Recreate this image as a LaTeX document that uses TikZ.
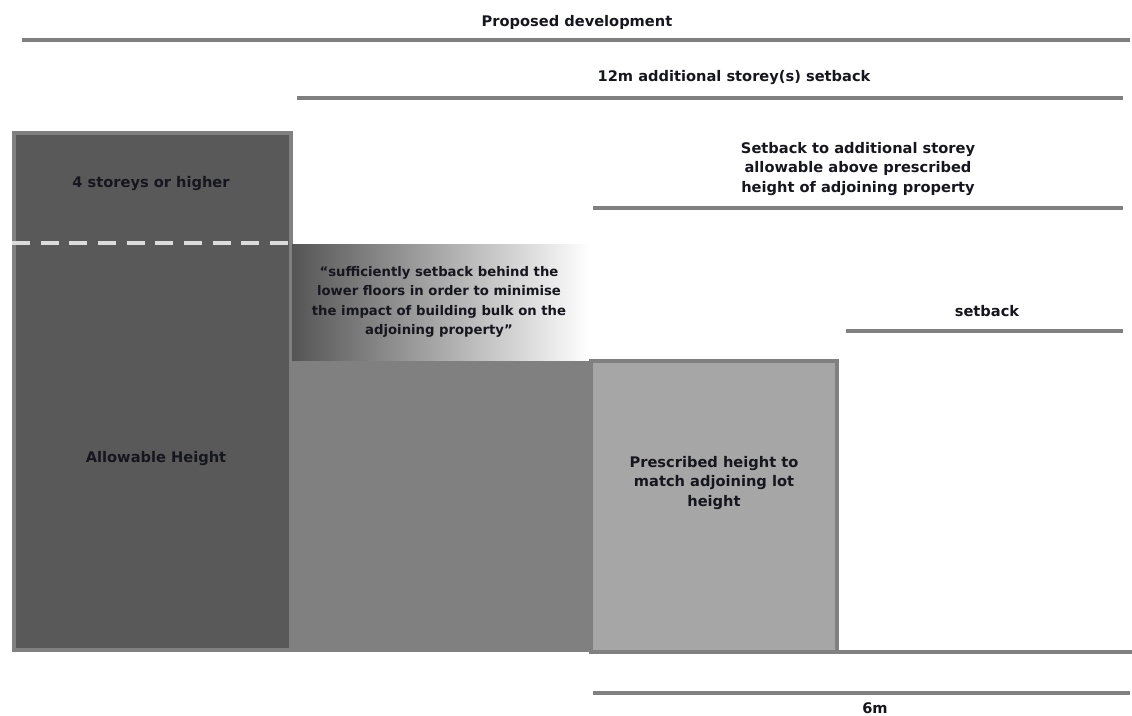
\documentclass[tikz,border=0pt]{standalone}
\usepackage{fontspec}
\setmainfont{DejaVu Sans}
\usepackage{tikz}
\usetikzlibrary{positioning,calc}
\usepackage{xcolor}
\definecolor{rulegray}{RGB}{128,128,128}
\definecolor{darkfill}{RGB}{89,89,89}
\definecolor{midfill}{RGB}{128,128,128}
\definecolor{lightfill}{RGB}{166,166,166}
\definecolor{dashgray}{RGB}{220,220,220}
\definecolor{ink}{RGB}{22,22,30}

\tikzset{
  txt/.style={font=\fontsize{10.4}{14.2}\selectfont\bfseries,text=ink,align=center,inner sep=0pt},
  dimrule/.style={draw=rulegray,line width=2.9pt}
}

\begin{document}
\begin{tikzpicture}[x=0.025cm,y=-0.025cm]
    \useasboundingbox (0,0) rectangle (1132,716);

    % Allowable height block
    \filldraw[fill=darkfill,draw=rulegray,line width=2.8pt] (14,133) rectangle (291,650);
    \node[txt] (floors) at (151,184) {4 storeys or higher};
    \node[txt] (allow) at (156,459) {Allowable Height};

    % Lower floors and faded upper setback
    \fill[midfill] (291,360) rectangle (591,652);
    \shade[left color=darkfill!95!black,right color=white] (292,244) rectangle (590,360);
    \node[txt,font=\fontsize{9.4}{13.7}\selectfont\bfseries] (quote) at (439,302) {``sufficiently setback behind the\\lower floors in order to minimise\\the impact of building bulk on the\\adjoining property''};

    % 4 storey line
    \draw[dashgray,line width=3.2pt,dash pattern=on 12.8pt off 7.6pt] (12,243) -- (290,243);

    % Prescribed height block
    \filldraw[fill=lightfill,draw=rulegray,line width=2.8pt] (591,361) rectangle (837,652);
    \node[txt] (presc) at (714,483) {Prescribed height to\\match adjoining lot\\height};

    % Ground line
    \coordinate (g1) at (591,652);
    \coordinate (g2) at (1132,652);
    \draw[dimrule] (g1) -- (g2);

    % Rules and labels
    \node[txt] (title) at (577,22) {Proposed development};
    \coordinate (t1) at (22,40);
    \coordinate (t2) at (1130,40);
    \draw[dimrule] (t1) -- (t2);

    \node[txt] (addl) at (734,78) {12m additional storey(s) setback};
    \coordinate (a1) at (297,98);
    \coordinate (a2) at (1123,98);
    \draw[dimrule] (a1) -- (a2);

    \node[txt] (setbk) at (858,169) {Setback to additional storey\\allowable above prescribed\\height of adjoining property};
    \coordinate (s1) at (593,208);
    \coordinate (s2) at (1123,208);
    \draw[dimrule] (s1) -- (s2);

    \node[txt] (sb) at (987,311) {setback};
    \coordinate (b1) at (846,331);
    \coordinate (b2) at (1123,331);
    \draw[dimrule] (b1) -- (b2);

    \coordinate (m1) at (593,693);
    \coordinate (m2) at (1130,693);
    \draw[dimrule] (m1) -- (m2);
    \node[txt] (six) at (875,708) {6m};
\end{tikzpicture}
\end{document}
